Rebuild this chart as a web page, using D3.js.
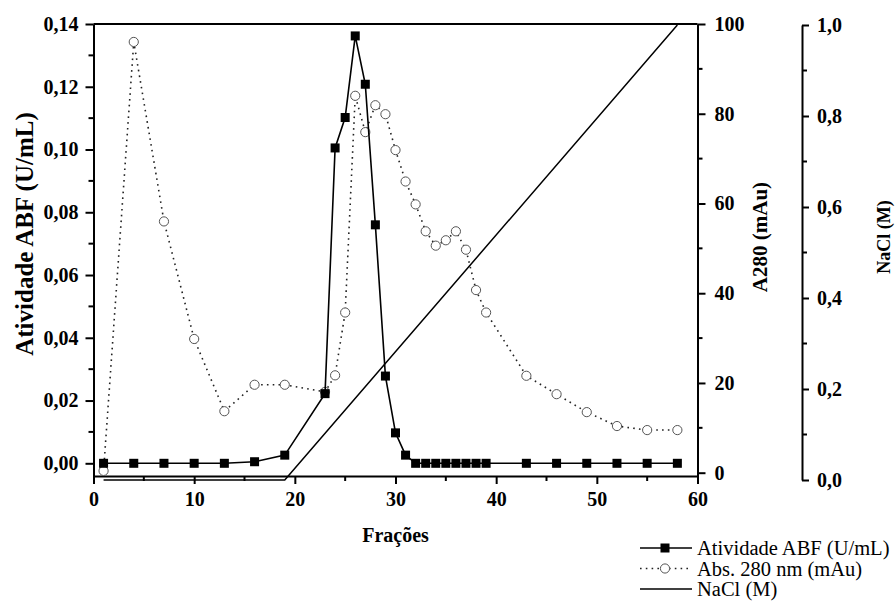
<!DOCTYPE html>
<html>
<head>
<meta charset="utf-8">
<script src="https://cdn.jsdelivr.net/npm/d3@7"></script>
<style>
  body { margin: 0; background: #fff; }
  svg { display: block; }
  svg text { font-family: "Liberation Serif", "Times New Roman", Times, "DejaVu Serif", serif; }
</style>
</head>
<body>
<svg id="chart" width="896" height="601"></svg>
<script>
// ---- data ----
const abfFractions = [1,4,7,10,13,16,19,23,24,25,26,27,28,29,30,31,32,33,34,35,36,37,38,39,43,46,49,52,55,58];
const abfValues = [0,0,0,0,0,0.0005,0.0026,0.0222,0.1005,0.1102,0.1362,0.1208,0.076,0.0278,0.0097,0.0026,0,0,0,0,0,0,0,0,0,0,0,0,0,0];
const a280Fractions = [1,4,7,10,13,16,19,23,24,25,26,27,28,29,30,31,32,33,34,35,36,37,38,39,43,46,49,52,55,58];
const a280Values = [0.4,96,56,29.8,13.7,19.6,19.6,18,21.7,35.7,84,75.9,81.9,79.9,71.9,64.9,59.8,53.8,50.6,51.8,53.8,49.7,40.7,35.7,21.6,17.5,13.5,10.4,9.5,9.5];
const naclFractions = [1,19,58];
const naclValues = [0,0,1.0];
const xTicks = [0,10,20,30,40,50,60];
const abfTicks = [0,0.02,0.04,0.06,0.08,0.10,0.12,0.14];
const a280Ticks = [0,20,40,60,80,100];
const naclTicks = [0,0.2,0.4,0.6,0.8,1.0];
const legendLabels = ["Atividade ABF (U/mL)", "Abs. 280 nm (mAu)", "NaCl (M)"];

const svg = d3.select("#chart");
const L = 93.5, R = 697.5, T = 24, B = 476;
const fmtComma = d => d3.format(".2f")(d).replace(".", ",");
const fmt1 = d => d3.format(".1f")(d).replace(".", ",");

const x = d3.scaleLinear().domain([0, 60]).range([L, R]);
const yAbf = d3.scaleLinear().domain([0, 0.14]).range([463.3, T]);
yAbf.domain([yAbf.invert(B), 0.14]).range([B, T]);
const yA = d3.scaleLinear().domain([0, 100]).range([472.7, T]);
yA.domain([yA.invert(B), 100]).range([B, T]);
const yN = d3.scaleLinear().domain([0, 1]).range([480, 25]);

function styleAxis(g, labelSize) {
  g.selectAll("path.domain").attr("stroke", "#000").attr("stroke-width", 2);
  g.selectAll(".tick line").attr("stroke", "#000").attr("stroke-width", 2);
  g.selectAll(".tick text").attr("fill", "#000")
    .style("font-weight", "bold").style("font-size", labelSize + "px");
}
function minor(g, scale, vals, orient, len) {
  vals.forEach(v => {
    const p = scale(v);
    let ln;
    if (orient === "left") ln = g.append("line").attr("x1", 0).attr("x2", -len).attr("y1", p).attr("y2", p);
    if (orient === "right") ln = g.append("line").attr("x1", 0).attr("x2", len).attr("y1", p).attr("y2", p);
    if (orient === "bottom") ln = g.append("line").attr("y1", 0).attr("y2", len).attr("x1", p).attr("x2", p);
    ln.attr("stroke", "#000").attr("stroke-width", 2);
  });
}

// top frame
svg.append("line").attr("x1", L).attr("x2", R).attr("y1", T).attr("y2", T)
  .attr("stroke", "#000").attr("stroke-width", 2);

// x axis
const gx = svg.append("g").attr("transform", `translate(0,${B})`)
  .call(d3.axisBottom(x).tickValues(xTicks).tickSize(8).tickSizeOuter(0).tickPadding(8));
styleAxis(gx, 20);
gx.selectAll(".tick text").attr("dy", "0.71em");
minor(gx, x, [5,15,25,35,45,55], "bottom", 5);

// left axis
const gl = svg.append("g").attr("transform", `translate(${L},0)`)
  .call(d3.axisLeft(yAbf).tickValues(abfTicks).tickFormat(fmtComma).tickSize(8).tickSizeOuter(0).tickPadding(7));
styleAxis(gl, 20);
minor(gl, yAbf, [0.01,0.03,0.05,0.07,0.09,0.11,0.13], "left", 5);

// right A280 axis
const gr = svg.append("g").attr("transform", `translate(${R},0)`)
  .call(d3.axisRight(yA).tickValues(a280Ticks).tickFormat(d3.format("d")).tickSize(8).tickSizeOuter(0).tickPadding(9));
styleAxis(gr, 20);
minor(gr, yA, [10,30,50,70,90], "right", 5);

// NaCl axis
const NX = 802;
const gn = svg.append("g").attr("transform", `translate(${NX},0)`)
  .call(d3.axisRight(yN).tickValues(naclTicks).tickFormat(fmt1).tickSize(7).tickSizeOuter(0).tickPadding(8));
styleAxis(gn, 20);
minor(gn, yN, [0.1,0.3,0.5,0.7,0.9], "right", 5);

// axis titles
svg.append("text").attr("transform", `translate(24,234) rotate(-90)`)
  .attr("text-anchor", "middle").attr("dominant-baseline", "central")
  .style("font-weight", "bold").style("font-size", "25px").text("Atividade ABF (U/mL)");
svg.append("text").attr("transform", `translate(760,237) rotate(-90)`)
  .attr("text-anchor", "middle").attr("dominant-baseline", "central")
  .style("font-weight", "bold").style("font-size", "21px").text("A280 (mAu)");
svg.append("text").attr("transform", `translate(884,237) rotate(-90)`)
  .attr("text-anchor", "middle").attr("dominant-baseline", "central")
  .style("font-weight", "bold").style("font-size", "18px").text("NaCl (M)");
svg.append("text").attr("x", (L + R) / 2).attr("y", 542)
  .attr("text-anchor", "middle")
  .style("font-weight", "bold").style("font-size", "20px").text("Frações");

// NaCl line
const naclData = naclFractions.map((f, i) => [f, naclValues[i]]);
svg.append("path").datum(naclData)
  .attr("d", d3.line().x(d => x(d[0])).y(d => yN(d[1])))
  .attr("fill", "none").attr("stroke", "#000").attr("stroke-width", 1.5);

// A280 dotted line + circles
const aData = a280Fractions.map((f, i) => [f, a280Values[i]]);
svg.append("path").datum(aData)
  .attr("d", d3.line().x(d => x(d[0])).y(d => yA(d[1])))
  .attr("fill", "none").attr("stroke", "#222").attr("stroke-width", 1.6)
  .attr("stroke-dasharray", "1.6,4.2");
svg.selectAll("circle.a").data(aData).join("circle").attr("class", "a")
  .attr("cx", d => x(d[0])).attr("cy", d => yA(d[1])).attr("r", 4.6)
  .attr("fill", "#fff").attr("stroke", "#555").attr("stroke-width", 1);

// ABF solid line + squares
const bData = abfFractions.map((f, i) => [f, abfValues[i]]);
svg.append("path").datum(bData)
  .attr("d", d3.line().x(d => x(d[0])).y(d => yAbf(d[1])))
  .attr("fill", "none").attr("stroke", "#000").attr("stroke-width", 1.6);
const S = 9;
svg.selectAll("rect.b").data(bData).join("rect").attr("class", "b")
  .attr("x", d => x(d[0]) - S / 2).attr("y", d => yAbf(d[1]) - S / 2)
  .attr("width", S).attr("height", S).attr("fill", "#000");

// legend
const lg = svg.append("g");
const rows = [548, 568.5, 589];
const lx1 = 640, lx2 = 692, mx = 665;
lg.append("line").attr("x1", lx1).attr("x2", lx2).attr("y1", rows[0]).attr("y2", rows[0])
  .attr("stroke", "#000").attr("stroke-width", 1.6);
lg.append("rect").attr("x", mx - S / 2).attr("y", rows[0] - S / 2).attr("width", S).attr("height", S).attr("fill", "#000");
lg.append("line").attr("x1", lx1).attr("x2", lx2).attr("y1", rows[1]).attr("y2", rows[1])
  .attr("stroke", "#222").attr("stroke-width", 1.6).attr("stroke-dasharray", "1.6,4.2");
lg.append("circle").attr("cx", mx).attr("cy", rows[1]).attr("r", 4.6)
  .attr("fill", "#fff").attr("stroke", "#555").attr("stroke-width", 1);
lg.append("line").attr("x1", lx1).attr("x2", lx2).attr("y1", rows[2]).attr("y2", rows[2])
  .attr("stroke", "#000").attr("stroke-width", 1.5);
legendLabels.forEach((t, i) => {
  lg.append("text").attr("x", 697).attr("y", rows[i]).attr("dominant-baseline", "central")
    .style("font-size", "20.5px").text(t);
});
</script>
</body>
</html>
